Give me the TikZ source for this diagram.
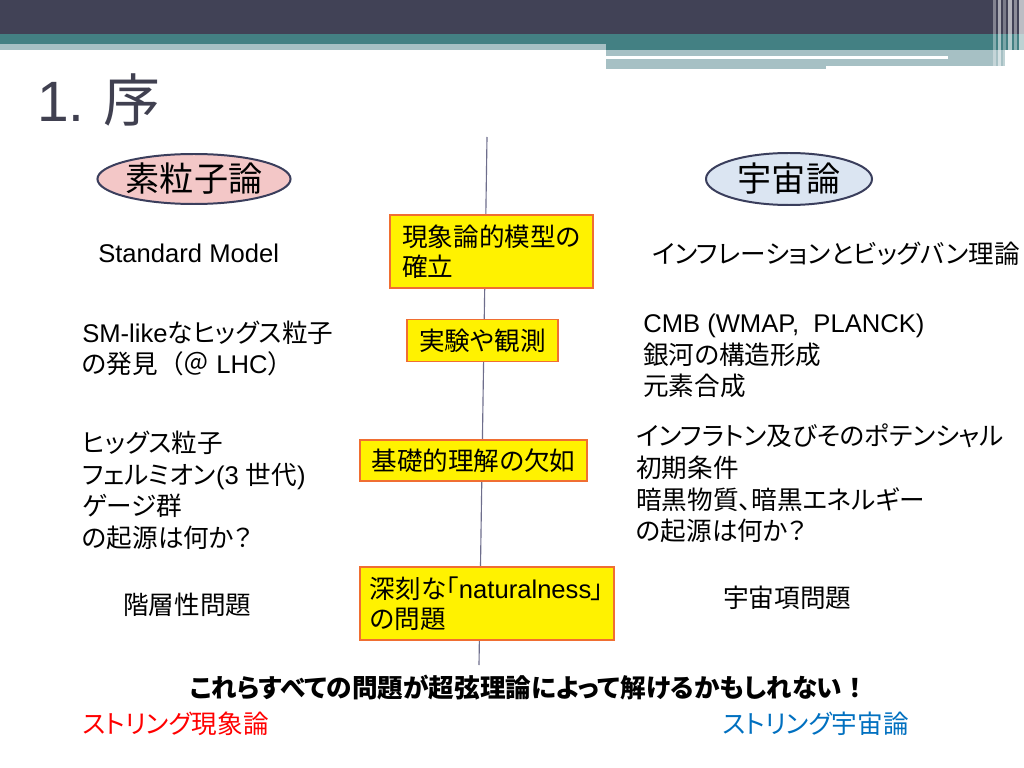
\documentclass[tikz,border=0pt]{standalone}
\usepackage{fontspec}
\setmainfont{Liberation Sans}
\newfontfamily\jp[RawFeature=+palt]{Noto Sans CJK JP}
\newfontfamily\jpfw{Noto Sans CJK JP}
\newcommand{\jt}[1]{{\jp #1}}
\newcommand{\jfw}[1]{{\jpfw #1}}
\usetikzlibrary{shapes.geometric}
\definecolor{hdrdark}{RGB}{65,66,86}
\definecolor{hdrteal}{RGB}{67,128,131}
\definecolor{hdrlight}{RGB}{166,192,196}
\definecolor{titlegray}{RGB}{64,64,80}
\definecolor{ellborder}{RGB}{58,62,92}
\definecolor{pinkfill}{RGB}{243,199,199}
\definecolor{bluefill}{RGB}{219,229,242}
\definecolor{boxborder}{RGB}{240,110,50}
\definecolor{axisline}{RGB}{110,110,140}
\definecolor{strblue}{RGB}{0,112,192}
\begin{document}
\begin{tikzpicture}[x=0.703125pt,y=-0.703125pt,
  txt/.style={anchor=west, align=left, inner sep=0pt, font=\fontsize{18}{22.2}\selectfont},
  ybox/.style={draw=boxborder, line width=1pt, fill=yellow, align=left, inner sep=0pt,
    font=\fontsize{18}{21.1}\selectfont},
  field/.style={ellipse, draw=ellborder, line width=1.4pt, inner sep=0pt,
    font=\fontsize{24}{24}\selectfont\jp},
  strtxt/.style={anchor=west, inner sep=0pt, font=\fontsize{18}{22}\selectfont\jp}]
\useasboundingbox (0,0) rectangle (1024,768);
% header
\fill[white] (0,0) rectangle (1024,768);
\fill[hdrdark] (0,0) rectangle (1024,34);
\fill[hdrteal] (0,34) rectangle (1024,44);
\fill[hdrteal] (606,44) rectangle (1024,50);
\fill[hdrlight] (0,44) rectangle (606,50);
\fill[hdrlight] (606,50) rectangle (1005,66);
\fill[hdrlight] (606,66) rectangle (826,69);
\fill[white] (606,56) rectangle (948,59);
\fill[white, opacity=0.35] (993,0) rectangle (996,69);
\fill[white, opacity=0.55] (998,0) rectangle (1001,69);
\fill[white, opacity=0.3] (1003,0) rectangle (1006,69);
\fill[white, opacity=0.6] (1008,0) rectangle (1012,69);
\fill[white, opacity=0.4] (1014,0) rectangle (1017,69);
\fill[white, opacity=0.65] (1019,0) rectangle (1024,69);
% title
\node[anchor=base west, inner sep=0pt, text=titlegray, font=\fontsize{40}{40}\selectfont]
  (title) at (37,122) {1.\hspace{13pt}\jt{序}};
% axis
\coordinate (ltop) at (487,137);
\coordinate (lbot) at (479,665);
\draw[axisline, line width=0.8pt] (ltop) -- (lbot);
% field ellipses
\node[field, fill=pinkfill, minimum width=168*0.703125pt, minimum height=50*0.703125pt]
  (pp) at (194,179) {素粒子論};
\node[field, fill=bluefill, minimum width=166*0.703125pt, minimum height=52*0.703125pt]
  (cos) at (789,179) {宇宙論};
% yellow boxes
\node[ybox, minimum width=203*0.703125pt, minimum height=73*0.703125pt]
  (b1) at (491.5,251.5) {\jt{現象論的模型の}\\\jt{確立}};
\node[ybox, minimum width=151*0.703125pt, minimum height=42*0.703125pt]
  (b2) at (482.5,340.5) {\jt{実験や観測}};
\node[ybox, minimum width=227*0.703125pt, minimum height=41*0.703125pt]
  (b3) at (473.5,460.5) {\jt{基礎的理解の欠如}};
\node[ybox, minimum width=254*0.703125pt, minimum height=73*0.703125pt]
  (b4) at (487,603.5) {\jt{深刻な「}naturalness\jt{」}\\\jt{の問題}};
% left column
\node[txt] (sm) at (98,253) {Standard Model};
\node[txt] (smh) at (82,348.5) {SM-like\jt{なヒッグス粒子}\\\jt{の発見}\jfw{（＠} LHC\jfw{）}};
\node[txt] (hig) at (82,490.5) {\jt{ヒッグス粒子}\\\jt{フェルミオン}(3 \jt{世代})\\\jt{ゲージ群}\\\jt{の起源は何か？}};
\node[txt] (kai) at (123,605) {\jt{階層性問題}};
% right column
\node[txt] (inf) at (652,254) {\jt{インフレーションとビッグバン理論}};
\node[txt] (cmb) at (643,356) {CMB (WMAP, \ PLANCK)\\\jt{銀河の構造形成}\\\jt{元素合成}};
\node[txt] (ift) at (636,483.5) {\jt{インフラトン及びそのポテンシャル}\\\jt{初期条件}\\\jt{暗黒物質、暗黒エネルギー}\\\jt{の起源は何か？}};
\node[txt] (uch) at (723,598) {\jt{宇宙項問題}};
% bottom
\node[inner sep=0pt, font=\fontsize{18}{22}\selectfont\jp\bfseries]
  (all) at (529,688) {これらすべての問題が超弦理論によって解けるかもしれない\jfw{！}};
\node[strtxt, text=red] (sp) at (82,724) {ストリング現象論};
\node[strtxt, text=strblue] (sc) at (722,724) {ストリング宇宙論};
\end{tikzpicture}
\end{document}
